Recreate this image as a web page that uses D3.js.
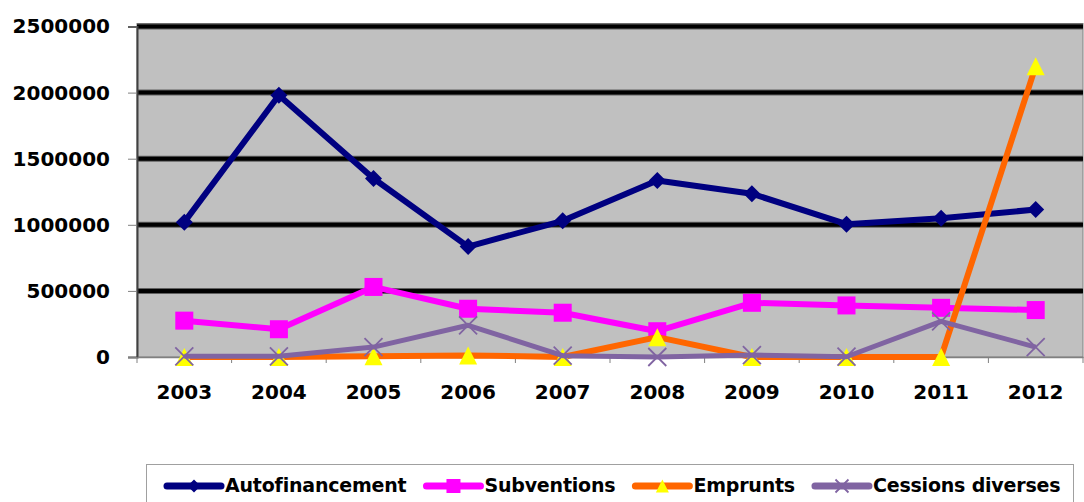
<!DOCTYPE html>
<html>
<head>
<meta charset="utf-8">
<script src="https://cdn.jsdelivr.net/npm/d3@7"></script>
<style>
  html, body { margin: 0; padding: 0; background: #fff; }
  svg { display: block; }
  text { font-family: "DejaVu Sans", Verdana, sans-serif; font-weight: bold; fill: #000; }
</style>
</head>
<body>
<svg id="chart" width="1084" height="502"></svg>
<script>
// Years on the category axis
const years = ["2003", "2004", "2005", "2006", "2007", "2008", "2009", "2010", "2011", "2012"];

// Financing sources per year
const autofinancement = [1020000, 1980000, 1350000, 835000, 1030000, 1335000, 1235000, 1005000, 1050000, 1115000];
const subventions     = [275000, 210000, 530000, 365000, 335000, 195000, 410000, 390000, 372000, 355000];
const emprunts        = [0, 0, 5000, 12000, 0, 150000, 0, 0, 0, 2200000];
const cessions        = [5000, 5000, 75000, 240000, 10000, 0, 15000, 2000, 270000, 75000];

// Value axis ticks
const yTicks = [0, 500000, 1000000, 1500000, 2000000, 2500000];

const seriesNames = ["Autofinancement", "Subventions", "Emprunts", "Cessions diverses"];
const seriesValues = [autofinancement, subventions, emprunts, cessions];
const seriesStyle = [
  { color: "#000080", width: 6, marker: "diamond", fill: "#000080", size: 17 },
  { color: "#FF00FF", width: 6, marker: "square",  fill: "#FF00FF", size: 18 },
  { color: "#FF6600", width: 6, marker: "triangle", fill: "#FFFF00", size: 18 },
  { color: "#8064A2", width: 5, marker: "cross",   fill: "none",    size: 18 }
];

const svg = d3.select("#chart");
const plot = { left: 137, right: 1083, top: 26.5, bottom: 357 };

const x = d3.scaleBand().domain(years).range([plot.left, plot.right]);
const y = d3.scaleLinear().domain([0, 2500000]).range([plot.bottom, plot.top]);
const cx = d => x(d) + x.bandwidth() / 2;

// plot area background and frame
svg.append("rect")
  .attr("x", plot.left).attr("y", plot.top - 3)
  .attr("width", plot.right - plot.left).attr("height", plot.bottom - plot.top + 3)
  .attr("fill", "#C0C0C0").attr("stroke", "#808080").attr("stroke-width", 1);

// horizontal gridlines
const grid = svg.append("g");
yTicks.filter(v => v > 0).forEach(v => {
  grid.append("line")
    .attr("x1", plot.left).attr("x2", plot.right)
    .attr("y1", y(v)).attr("y2", y(v))
    .attr("stroke", "#606060").attr("stroke-width", 6);
  grid.append("line")
    .attr("x1", plot.left).attr("x2", plot.right)
    .attr("y1", y(v)).attr("y2", y(v))
    .attr("stroke", "#000").attr("stroke-width", 4);
});

// value axis
const yAxis = d3.axisLeft(y).tickValues(yTicks).tickSize(9).tickPadding(18).tickFormat(d3.format("d"));
const gy = svg.append("g").attr("transform", `translate(${plot.left},0)`).call(yAxis);
gy.select(".domain").attr("stroke", "#404040").attr("stroke-width", 2);
gy.selectAll(".tick line").attr("stroke", "#808080");
gy.selectAll(".tick text")
  .attr("font-size", 20).attr("font-family", "DejaVu Sans").attr("font-weight", "bold")
  .attr("fill", "#000");

// category axis
const xAxis = d3.axisBottom(x).tickSize(0).tickPadding(0);
const gx = svg.append("g").attr("transform", `translate(0,${plot.bottom})`).call(xAxis);
gx.select(".domain").attr("stroke", "#808080").attr("stroke-width", 1.5);
gx.selectAll(".tick text")
  .attr("font-size", 20).attr("font-family", "DejaVu Sans").attr("font-weight", "bold")
  .attr("fill", "#000").attr("dy", null).attr("y", 42);
// tick marks between categories
const bounds = years.map(d => x(d)).concat([plot.right]);
gx.selectAll(".sep").data(bounds).enter().append("line")
  .attr("class", "sep")
  .attr("x1", d => d).attr("x2", d => d)
  .attr("y1", 0).attr("y2", 6)
  .attr("stroke", "#808080").attr("stroke-width", 1);

// marker drawing
function drawMarker(g, type, size, fill, color) {
  const h = size / 2;
  if (type === "diamond") {
    g.append("path").attr("d", `M0,${-h}L${h},0L0,${h}L${-h},0Z`).attr("fill", fill);
  } else if (type === "square") {
    g.append("rect").attr("x", -h).attr("y", -h).attr("width", size).attr("height", size).attr("fill", fill);
  } else if (type === "triangle") {
    g.append("path").attr("d", `M0,${-h}L${h},${h}L${-h},${h}Z`).attr("fill", fill);
  } else if (type === "cross") {
    g.append("path").attr("d", `M${-h},${-h}L${h},${h}M${-h},${h}L${h},${-h}`)
      .attr("stroke", color).attr("stroke-width", 1.8).attr("fill", "none");
  }
}

const line = d3.line().x((d, i) => cx(years[i])).y(d => y(d));

seriesValues.forEach((vals, si) => {
  const st = seriesStyle[si];
  const g = svg.append("g");
  g.append("path").datum(vals)
    .attr("d", line)
    .attr("fill", "none")
    .attr("stroke", st.color)
    .attr("stroke-width", st.width)
    .attr("stroke-linejoin", "round");
  vals.forEach((v, i) => {
    const m = g.append("g").attr("transform", `translate(${cx(years[i])},${y(v)})`);
    drawMarker(m, st.marker, st.size, st.fill, st.color);
  });
});

// legend
const legend = svg.append("g");
legend.append("rect")
  .attr("x", 146.5).attr("y", 464.5).attr("width", 927).attr("height", 60)
  .attr("fill", "#fff").attr("stroke", "#A0A0A0").attr("stroke-width", 1);

let lx = 167;
const ly = 486;
seriesNames.forEach((name, si) => {
  const st = seriesStyle[si];
  const item = legend.append("g");
  item.append("line")
    .attr("x1", lx).attr("x2", lx + 54).attr("y1", ly).attr("y2", ly)
    .attr("stroke", st.color).attr("stroke-width", 7).attr("stroke-linecap", "round");
  const m = item.append("g").attr("transform", `translate(${lx + 27},${ly})`);
  drawMarker(m, st.marker, st.marker === "square" ? 14 : 13, st.fill, st.color);
  const t = item.append("text")
    .attr("x", lx + 58).attr("y", 492)
    .attr("font-size", 19)
    .attr("letter-spacing", -0.2)
    .text(name);
  lx = lx + 58 + t.node().getComputedTextLength() + 20;
});
</script>
</body>
</html>
